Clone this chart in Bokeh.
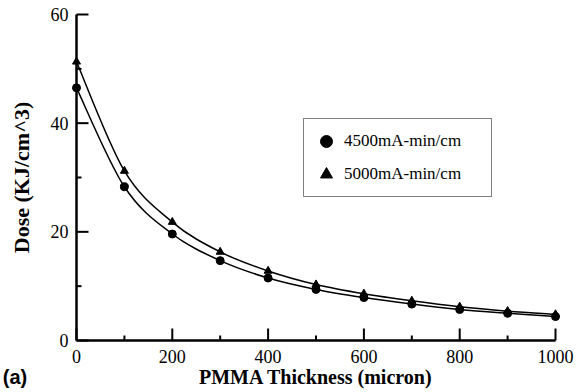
from bokeh.plotting import figure
from bokeh.models import Range1d, FixedTicker, Legend, LegendItem
from bokeh.core.properties import value
from bokeh.embed import file_html
from bokeh.resources import INLINE

# ---- data ----
thickness = [0, 100, 200, 300, 400, 500, 600, 700, 800, 900, 1000]
dose_4500 = [46.5, 28.3, 19.6, 14.7, 11.5, 9.4, 7.9, 6.7, 5.7, 5.0, 4.4]
dose_5000 = [51.3, 31.2, 21.8, 16.3, 12.8, 10.3, 8.6, 7.3, 6.2, 5.4, 4.8]
series_names = ["4500mA-min/cm", "5000mA-min/cm"]
x_ticks = [0, 200, 400, 600, 800, 1000]
x_minor = [100, 300, 500, 700, 900]
y_ticks = [0, 20, 40, 60]
y_minor = [10, 30, 50]
panel_tag = "(a)"

SERIF = "Liberation Serif"

x_range = Range1d(0, 1000)
y_range = Range1d(0, 60)
FRAME_W, FRAME_H = 479, 326

p = figure(width=576, height=390, output_backend="svg", toolbar_location=None,
           x_range=x_range, y_range=y_range,
           min_border_left=76, min_border_right=21, min_border_top=14,
           min_border_bottom=50)
p.outline_line_color = None
p.xgrid.visible = False
p.ygrid.visible = False
p.background_fill_color = None
p.border_fill_color = "white"


def smooth_segments(xs, ys):
    """Catmull-Rom through the data points, expressed as cubic Bezier pieces."""
    n = len(xs)
    x0, y0, x1, y1, cx0, cy0, cx1, cy1 = ([] for _ in range(8))
    for i in range(n - 1):
        im = max(i - 1, 0)
        ip = min(i + 2, n - 1)
        x0.append(xs[i]); y0.append(ys[i])
        x1.append(xs[i + 1]); y1.append(ys[i + 1])
        cx0.append(xs[i] + (xs[i + 1] - xs[im]) / 6.0)
        cy0.append(ys[i] + (ys[i + 1] - ys[im]) / 6.0)
        cx1.append(xs[i + 1] - (xs[ip] - xs[i]) / 6.0)
        cy1.append(ys[i + 1] - (ys[ip] - ys[i]) / 6.0)
    return dict(x0=x0, y0=y0, x1=x1, y1=y1, cx0=cx0, cy0=cy0, cx1=cx1, cy1=cy1)


for ys in (dose_4500, dose_5000):
    p.bezier(line_color="black", line_width=1.5, level="overlay",
             **smooth_segments(thickness, ys))

r1 = p.scatter(thickness, dose_4500, marker="circle", size=8,
               fill_color="black", line_color="black", level="overlay")
r2 = p.scatter(thickness, dose_5000, marker="triangle", size=8,
               fill_color="black", line_color="black", level="overlay")

legend = Legend(items=[LegendItem(label=series_names[0], renderers=[r1]),
                       LegendItem(label=series_names[1], renderers=[r2])],
                location=(227, 143))
legend.border_line_color = "black"
legend.border_line_width = 1
legend.background_fill_color = "white"
legend.background_fill_alpha = 1
legend.padding = 7
legend.spacing = 3
legend.margin = 0
legend.glyph_width = 30
legend.glyph_height = 30
legend.label_height = 30
legend.label_width = 140
legend.label_standoff = 3
legend.label_text_font = SERIF
legend.label_text_font_size = "17px"
legend.label_text_color = "black"
p.add_layout(legend, "center")

# axes: line + labels
for ax in (p.xaxis[0], p.yaxis[0]):
    ax.axis_line_width = 2.5
    ax.axis_line_color = "black"
    ax.major_tick_in = 0
    ax.major_tick_out = 0
    ax.minor_tick_in = 0
    ax.minor_tick_out = 0
    ax.major_label_text_font = SERIF
    ax.major_label_text_font_size = "18px"
    ax.major_label_text_color = "black"
    ax.axis_label_text_font = SERIF
    ax.axis_label_text_font_style = "bold"
    ax.axis_label_text_color = "black"

p.xaxis[0].ticker = FixedTicker(ticks=x_ticks, minor_ticks=x_minor)
p.yaxis[0].ticker = FixedTicker(ticks=y_ticks, minor_ticks=y_minor)
p.xaxis[0].axis_label = "PMMA Thickness (micron)"
p.yaxis[0].axis_label = "Dose (KJ/cm^3)"
p.xaxis[0].axis_label_text_font_size = "20px"
p.yaxis[0].axis_label_text_font_size = "22px"
p.xaxis[0].major_label_standoff = 9
p.yaxis[0].major_label_standoff = 8
p.xaxis[0].axis_label_standoff = 0
p.yaxis[0].axis_label_standoff = 14

# inward tick marks (12 px major, 5 px minor), drawn from the tick lists
ux = (x_range.end - x_range.start) / FRAME_W   # data units per pixel
uy = (y_range.end - y_range.start) / FRAME_H
x0b, y0b = x_range.start, y_range.start


def ticks_on_x(ticks, px):
    return dict(x0=ticks, x1=ticks, y0=[y0b] * len(ticks),
                y1=[y0b + px * uy] * len(ticks))


def ticks_on_y(ticks, px):
    return dict(y0=ticks, y1=ticks, x0=[x0b] * len(ticks),
                x1=[x0b + px * ux] * len(ticks))


for seg in (ticks_on_x(x_ticks, 12), ticks_on_x(x_minor, 5),
            ticks_on_y(y_ticks, 12), ticks_on_y(y_minor, 5)):
    p.segment(line_color="black", line_width=2, level="overlay", **seg)

# panel tag "(a)" placed below-left of the frame
p.text(x=[-154], y=[-6.8], text=[panel_tag], level="overlay",
       text_font=value("Liberation Sans"), text_font_style="bold",
       text_font_size="20px", text_baseline="middle", text_align="left",
       text_color="black")

open("out.html", "w").write(file_html(p, INLINE))
